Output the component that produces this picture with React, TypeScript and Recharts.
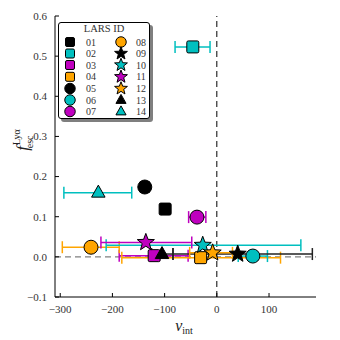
import React from "react";
import {
  ScatterChart,
  Scatter,
  XAxis,
  YAxis,
  ErrorBar,
  ReferenceLine,
} from "recharts";

const larsIds = ["01", "02", "03", "04", "05", "06", "07", "08", "09", "10", "11", "12", "13", "14"];
const vInt = [-99, -46, -120, -31, -138, 69, -38, -241, 40, -27, -136, -8, -105, -227];
const fEsc = [0.119, 0.523, 0.003, -0.002, 0.174, 0.002, 0.099, 0.024, 0.007, 0.029, 0.036, 0.01, 0.007, 0.16];
const vIntLow = [-106, -80, -187, -182, -146, 41, -54, -296, -84, -212, -222, -52, -125, -293];
const vIntHigh = [-92, -13, -55, 122, -130, 97, -21, -187, 183, 161, -48, 30, -84, -163];
const markerKinds = ["square", "square", "square", "square", "circle", "circle", "circle", "circle", "star", "star", "star", "star", "triangle", "triangle"];
const markerColors = ["#000000", "#00bfbf", "#bf00bf", "#ffa500", "#000000", "#00bfbf", "#bf00bf", "#ffa500", "#000000", "#00bfbf", "#bf00bf", "#ffa500", "#000000", "#00bfbf"];
const xTicks = [-300, -200, -100, 0, 100];
const yTicks = [-0.1, 0, 0.1, 0.2, 0.3, 0.4, 0.5, 0.6];

const FONT = "'Liberation Serif', 'DejaVu Serif', serif";

function starPath(cx: number, cy: number, r: number) {
  const pts: string[] = [];
  for (let i = 0; i < 10; i++) {
    const rad = i % 2 === 0 ? r : r * 0.42;
    const a = -Math.PI / 2 + (i * Math.PI) / 5;
    pts.push(`${cx + rad * Math.cos(a)},${cy + rad * Math.sin(a)}`);
  }
  return `M${pts.join("L")}Z`;
}

function Marker({ cx, cy, kind, color, s = 1 }: any) {
  const common = { fill: color, stroke: "#000", strokeWidth: 1 };
  if (kind === "square") {
    const h = 6 * s;
    return <rect x={cx - h} y={cy - h} width={2 * h} height={2 * h} rx={1.5} {...common} />;
  }
  if (kind === "circle") return <circle cx={cx} cy={cy} r={7 * s} {...common} />;
  if (kind === "star") return <path d={starPath(cx, cy, 9 * s)} {...common} strokeLinejoin="miter" />;
  const r = 7.5 * s;
  return (
    <path
      d={`M${cx},${cy - r}L${cx + r * 0.9},${cy + r * 0.6}L${cx - r * 0.9},${cy + r * 0.6}Z`}
      {...common}
    />
  );
}

function LegendBox() {
  const rowsY = [19, 30.5, 42, 53.8, 65.5, 77, 88.5];
  return (
    <div
      style={{
        position: "absolute",
        left: 58,
        top: 22,
        width: 90,
        height: 95,
        border: "1px solid #000",
        borderRadius: 3,
        background: "#fff",
        boxShadow: "3px 3px 0 #7f7f7f",
      }}
    >
      <svg width={90} height={95} style={{ display: "block" }}>
        <text x={45} y={9} textAnchor="middle" fontFamily={FONT} fontSize={10.5} fill="#333">
          LARS ID
        </text>
        {larsIds.map((id, i) => {
          const col = i < 7 ? 0 : 1;
          const row = i % 7;
          const mx = col === 0 ? 11 : 62;
          const lx = col === 0 ? 32 : 82;
          const y = rowsY[row];
          return (
            <g key={id}>
              <Marker cx={mx} cy={y} kind={markerKinds[i]} color={markerColors[i]} s={0.75} />
              <text x={lx} y={y + 3.5} textAnchor="middle" fontFamily={FONT} fontSize={10} fill="#333">
                {id}
              </text>
            </g>
          );
        })}
      </svg>
    </div>
  );
}

const XLabel = () => (
  <text x={184} y={331} textAnchor="middle" fontFamily={FONT} fill="#222">
    <tspan fontStyle="italic" fontSize={16}>v</tspan>
    <tspan fontSize={10} dy={3}>int</tspan>
  </text>
);

const YLabel = () => (
  <text
    x={0}
    y={0}
    transform="translate(28,140) rotate(-90)"
    textAnchor="middle"
    fontFamily={FONT}
    fill="#222"
  >
    <tspan fontStyle="italic" fontSize={17}>f</tspan>
    <tspan fontSize={10} dy={-8} dx={1}>Lyα</tspan>
    <tspan fontSize={10} dy={13} dx={-19}>esc</tspan>
  </text>
);

export default function App() {
  const series = larsIds.map((id, i) => ({
    id,
    data: [{ x: vInt[i], y: fEsc[i], err: [vInt[i] - vIntLow[i], vIntHigh[i] - vInt[i]] }],
  }));
  const tickStyle = { fill: "#333", fontSize: 11, fontFamily: FONT };
  return (
    <div style={{ position: "fixed", left: 0, top: 0, width: 340, height: 340, background: "#fff" }}>
      <ScatterChart width={340} height={340} margin={{ top: 16, right: 24, bottom: 0, left: 0 }}>
        <XAxis
          type="number"
          dataKey="x"
          xAxisId={0}
          domain={[-310, 190]}
          ticks={xTicks}
          allowDataOverflow
          height={43}
          tick={tickStyle}
          tickFormatter={(v) => (v < 0 ? `\u2212${-v}` : `${v}`)}
          stroke="#000"
          tickSize={-4}
          tickMargin={12}
          label={<XLabel />}
        />
        <XAxis
          type="number"
          xAxisId="top"
          orientation="top"
          domain={[-310, 190]}
          ticks={xTicks}
          allowDataOverflow
          height={0}
          tickFormatter={() => ""}
          stroke="#000"
          tickSize={-4}
        />
        <YAxis
          type="number"
          dataKey="y"
          yAxisId={0}
          domain={[-0.1, 0.6]}
          ticks={yTicks}
          allowDataOverflow
          width={55}
          tick={tickStyle}
          tickFormatter={(v) => (v < 0 ? `\u2212${(-v).toFixed(1)}` : v.toFixed(1))}
          stroke="#000"
          tickSize={-4}
          tickMargin={12}
          label={<YLabel />}
        />
        <YAxis
          type="number"
          yAxisId="right"
          orientation="right"
          domain={[-0.1, 0.6]}
          ticks={yTicks}
          allowDataOverflow
          width={0}
          tickFormatter={() => ""}
          stroke="#000"
          tickSize={-4}
        />
        <ReferenceLine y={0} stroke="#808080" strokeDasharray="6 4" strokeWidth={1.2} />
        <ReferenceLine x={0} stroke="#000" strokeDasharray="6 4" strokeWidth={1} />
        {series.map((s, i) => (
          <Scatter
            key={s.id}
            data={s.data}
            isAnimationActive={false}
            shape={(p: any) => <Marker cx={p.cx} cy={p.cy} kind={markerKinds[i]} color={markerColors[i]} />}
          >
            <ErrorBar
              dataKey="err"
              direction="x"
              width={6}
              stroke={markerColors[i] === "#000000" ? "#222" : markerColors[i]}
              strokeWidth={1.5}
              isAnimationActive={false}
            />
          </Scatter>
        ))}
      </ScatterChart>
      <LegendBox />
    </div>
  );
}
